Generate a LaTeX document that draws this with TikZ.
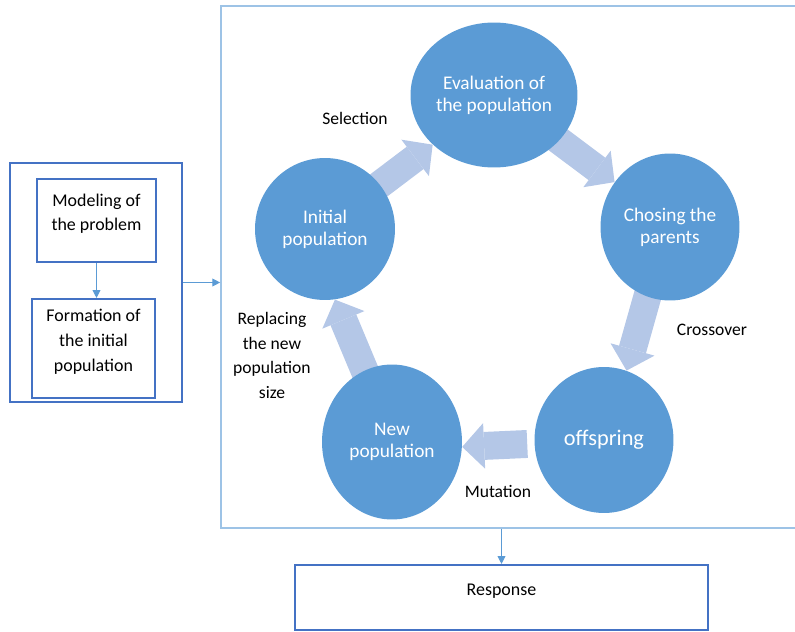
\documentclass[tikz,border=0pt]{standalone}
\usepackage{fontspec}
\setmainfont{Carlito}
\usetikzlibrary{arrows.meta,shapes.geometric,backgrounds}
\definecolor{ringblue}{HTML}{5B9BD5}
\definecolor{fatblue}{HTML}{B4C7E7}
\definecolor{boxblue}{HTML}{4472C4}
\definecolor{frameblue}{HTML}{9DC3E6}
\tikzset{
	stage/.style={ellipse, fill=ringblue, draw=none, inner sep=0pt, text=white, align=center, font=\fontsize{11}{12.5}\selectfont},
	stepbox/.style={draw=boxblue, line width=1.2pt, align=center, inner sep=0pt, text depth=9.3pt, font=\fontsize{10.2}{14}\selectfont},
	tag/.style={align=center, font=\fontsize{10}{14}\selectfont},
	link/.style={draw=ringblue, line width=0.6pt, -{Triangle[width=4.5pt,length=4.5pt]}},
	fat/.style={draw=fatblue, line width=15.9pt, -{Triangle[width=26pt,length=12.5pt,line width=0pt]}}
}

\begin{document}
\begin{tikzpicture}[x=0.02cm, y=-0.02cm]
	\useasboundingbox (0,0) rectangle (795,632);

	\node[draw=frameblue, line width=1pt, minimum width=11.58cm, minimum height=10.44cm] (ga) at (510.5,267) {};

	\node[draw=boxblue, line width=1.2pt, minimum width=3.44cm, minimum height=4.78cm] (prep) at (96,282.5) {};
	\node[stepbox, minimum width=2.38cm, minimum height=1.66cm] (model) at (96.5,220.5) {Modeling of\\the problem};
	\node[stepbox, minimum width=2.46cm, minimum height=1.98cm] (form) at (93.5,348.5) {Formation of\\the initial\\population};
	\node[stepbox, minimum width=8.26cm, minimum height=1.30cm] (resp) at (501.5,597.5) {Response};

	\node[stage, minimum width=3.34cm, minimum height=2.90cm] (evalpop) at (494,95) {Evaluation of\\the population};
	\node[stage, minimum width=2.80cm, minimum height=2.84cm] (init) at (325,229) {Initial\\population};
	\node[stage, minimum width=2.78cm, minimum height=2.94cm] (parents) at (670,227) {Chosing the\\parents};
	\node[stage, minimum width=2.78cm, minimum height=2.92cm, font=\fontsize{12.7}{15}\selectfont] (offspring) at (604,440) {offspring};
	\node[stage, minimum width=2.80cm, minimum height=3.10cm] (newpop) at (392,442) {New\\population};

	\node[tag] (sel) at (355,118) {Selection};
	\node[tag] (cross) at (712,330) {Crossover};
	\node[tag] (mut) at (498,491) {Mutation};
	\node[tag] (repl) at (272,355.5) {Replacing\\the new\\population\\size};

	\draw[link] (model.south) -- (model.south |- form.north);
	\draw[link] (prep.east) -- (prep.east -| ga.west);
	\draw[link] (resp.north |- ga.south) -- (resp.north);

	\begin{scope}[on background layer]
		\draw[fat, shorten <=-4pt] (init.39) -- (evalpop.219);
		\draw[fat, shorten <=-4pt] (evalpop.-35) -- (parents.141);
		\draw[fat, shorten <=-4pt] (parents.-108) -- (offspring.72);
		\draw[fat, shorten <=4pt] (offspring.183) -- (newpop.-4);
		\draw[fat, shorten <=-4pt] (newpop.111) -- (init.-82);
	\end{scope}
\end{tikzpicture}
\end{document}
